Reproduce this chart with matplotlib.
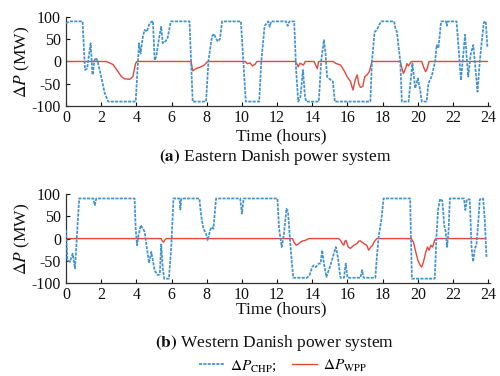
import matplotlib
matplotlib.use("Agg")
import matplotlib.pyplot as plt
from matplotlib.lines import Line2D

plt.rcParams["font.family"] = ["Liberation Serif", "DejaVu Serif"]
plt.rcParams["mathtext.fontset"] = "stix"
plt.rcParams["axes.unicode_minus"] = False

BLUE = "#4193cc"
RED = "#e5463c"
TEXT = "#111111"
DASH = (0, (1.8, 0.7))

# (a) Eastern Danish power system
t_chp_a = [0, 0.2, 0.94, 1.08, 1.2, 1.32, 1.4, 1.46, 1.51, 1.62, 1.71, 1.8, 2.0, 2.2, 2.4,
           3.96, 4.15, 4.24, 4.37, 4.47, 4.6, 4.75, 4.94, 5.04, 5.13, 5.3, 5.41, 5.5, 5.65,
           5.77, 5.96, 7.02, 7.2, 7.96, 8.1, 8.3, 8.4, 8.62, 8.75, 8.87, 9.94, 10.22, 10.98,
           11.1, 11.29, 11.5, 11.58, 11.66, 12.5, 12.6, 12.7, 12.97, 13.08, 13.2, 13.32,
           13.47, 13.58, 13.65, 14.37, 14.5, 14.66, 14.75, 14.84, 15.03, 15.17, 15.28, 17.3,
           17.39, 17.54, 17.67, 17.8, 17.92, 18.65, 18.72, 18.81, 19.0, 19.09, 19.47, 19.69,
           19.85, 20.0, 20.13, 20.22, 20.5, 20.6, 20.79, 20.98, 21.07, 21.17, 21.32, 21.6,
           21.65, 21.7, 22.2, 22.45, 22.68, 22.86, 23.01, 23.15, 23.28, 23.39, 23.52, 23.62,
           23.75, 23.86, 23.95]
p_chp_a = [86, 90, 90, -19, -16, 18, 41, 0, -30, 3, 8, 0, -34, -71, -90,
           -90, 41, 18, 56, 71, 67, 86, 91, 3, 11, 55, 78, 41, 45,
           52, 90, 90, -90, -90, 3, 56, 62, 45, 50, 90, 90, -90, -90,
           0, 80, 90, 78, 90, 90, 80, 90, 90, -19, -90, -80,
           -19, -78, -90, -90, 0, 48, 18, -34, -41, -45, -90, -90,
           0, 66, 71, 82, 90, 90, 75, 66, 0, -90, -90, -4,
           -60, -38, -64, -90, -90, -49, -33, 0, 37, 30, 90, 90,
           80, 90, 90, -42, 60, -34, 18, 37, -19, -68, 0, 41,
           88, 90, 33]

t_wpp_a = [0, 2.3, 2.68, 2.96, 3.15, 3.34, 3.62, 3.8, 3.96, 4.03, 7.11, 7.2, 7.39, 7.67, 7.86,
           8.05, 10.2, 10.3, 10.45, 10.6, 10.75, 10.85, 13.05, 13.2, 13.3, 13.5, 13.6, 14.1,
           14.19, 14.28, 14.36, 15.2, 15.32, 15.6, 15.8, 15.98, 16.17, 16.31, 16.45, 16.55,
           16.64, 16.73, 16.87, 16.98, 17.11, 17.24, 17.39, 19.0, 19.1, 19.18, 19.3, 19.38,
           19.47, 19.62, 20.22, 20.32, 20.44, 20.54, 20.63, 23.95]
p_wpp_a = [0, 0, -7, -23, -34, -39, -40, -34, -4, 0, 0, -21, -16, -12, -8,
           0, 0, -5, -3, -10, -6, 0, 0, -12, -4, -8, 0, 0,
           -8, -16, 0, 0, -4, -8, -20, -34, -45, -64, -40, -30,
           -50, -58, -56, -34, -30, -23, 0, 0, -16, -27, -16, -5,
           -10, 0, 0, -12, -23, -15, 0, 0]

# (b) Western Danish power system
t_chp_b = [0, 0.08, 0.23, 0.38, 0.51, 0.6, 0.75, 1.55, 1.64, 1.72, 3.9, 3.96, 4.04, 4.12,
           4.25, 4.38, 4.47, 4.6, 4.72, 4.85, 5.04, 5.22, 5.33, 5.41, 5.5, 5.58, 5.85, 5.98,
           6.11, 6.45, 6.5, 6.56, 7.58, 7.68, 7.81, 7.96, 8.05, 8.2, 8.3, 8.38, 8.53, 9.9,
           10.0, 10.1, 12.02, 12.11, 12.26, 12.38, 12.53, 12.62, 12.7, 12.83, 12.92, 13.7,
           13.85, 13.99, 14.09, 14.2, 14.37, 14.47, 14.56, 14.66, 14.8, 15.03, 15.22, 15.34,
           15.45, 15.6, 15.8, 15.9, 16.0, 16.73, 16.83, 16.92, 17.58, 17.67, 17.77, 17.92,
           18.05, 19.56, 19.66, 20.96, 21.05, 21.15, 21.26, 21.39, 21.5, 21.58, 21.66, 21.74,
           21.82, 22.62, 22.7, 22.78, 22.95, 23.05, 23.14, 23.24, 23.33, 23.42, 23.52, 23.71,
           23.8, 23.9]
p_chp_b = [19, -49, -52, -34, -67, -7, 90, 90, 75, 90, 90, 22, -15, 7,
           30, 22, 15, -22, -55, -30, -72, -82, -80, -13, -65, -90, -90, -20,
           90, 90, 65, 90, 90, 52, 22, 11, -4, 20, 26, 22, 90, 90,
           56, 90, 90, 22, -19, 7, 67, 60, 15, -52, -88, -88,
           -82, -64, -60, -64, -56, -56, -26, -56, -86, -60, -34, -19,
           -41, -88, -88, -56, -88, -88, -71, -88, -88, -41, 4, 41,
           90, 90, -90, -90, 0, 65, 89, 85, 30, 15, -19, 15,
           90, 90, 64, 88, 88, -19, -52, -22, -15, 30, 88, 90,
           45, -41]

t_wpp_b = [0, 5.41, 5.48, 5.55, 5.62, 5.7, 12.87, 12.96, 13.09, 13.24, 13.4, 13.6, 13.81,
           15.5, 15.6, 15.7, 15.79, 15.85, 15.92, 16.04, 16.17, 16.36, 16.55, 16.64, 16.73,
           16.92, 17.0, 17.1, 17.2, 17.3, 17.43, 17.5, 17.58, 17.67, 19.62, 19.75, 19.88,
           20.0, 20.13, 20.22, 20.32, 20.45, 20.55, 20.64, 20.74, 20.84, 20.95, 21.03, 23.85]
p_wpp_b = [0, 0, -6, -8, -3, 0, 0, -8, -15, -11, -6, -4, 0,
           0, -4, -11, -15, -6, -4, -19, -22, -15, -11, -6, -5,
           -11, -13, -15, -26, -20, -15, -8, -4, 0, 0, -8, -30,
           -49, -60, -64, -52, -30, -19, -26, -15, -19, -4, 0, 0]

panels = [
    (t_chp_a, p_chp_a, t_wpp_a, p_wpp_a, "(a)", "Eastern Danish power system"),
    (t_chp_b, p_chp_b, t_wpp_b, p_wpp_b, "(b)", "Western Danish power system"),
]

fig = plt.figure(figsize=(5.0, 3.76), dpi=100)
rects = [[0.132, 0.718, 0.848, 0.237], [0.132, 0.247, 0.848, 0.237]]
xlab_y = [0.638, 0.176]
cap_y = [0.582, 0.087]

for rect, (tc, pc, tw, pw, tag, name), xy, cy in zip(rects, panels, xlab_y, cap_y):
    ax = fig.add_axes(rect)
    ax.plot(tw, pw, color=RED, linewidth=1.0, zorder=2)
    ax.plot(tc, pc, color=BLUE, linewidth=1.25, linestyle=DASH, zorder=3)
    ax.set_xlim(0, 24.1)
    ax.set_ylim(-100, 100)
    ax.set_xticks(range(0, 25, 2))
    ax.set_yticks([-100, -50, 0, 50, 100])
    ax.tick_params(direction="in", length=3, labelsize=11.5, colors=TEXT)
    ax.tick_params(axis="x", pad=2.5)
    ax.tick_params(axis="y", pad=3.5)
    for s in ("top", "right"):
        ax.spines[s].set_visible(False)
    for s in ("left", "bottom"):
        ax.spines[s].set_color("#333333")
        ax.spines[s].set_linewidth(0.9)
    ax.set_ylabel(r"$\Delta P$ (MW)", fontsize=12.5, color=TEXT, labelpad=0)
    fig.text(0.562, xy, "Time (hours)", ha="center", va="center", fontsize=12.5, color=TEXT)
    fig.text(0.55, cy, r"$\mathbf{" + tag + "}$ " + name, ha="center", va="center",
             fontsize=12.5, color=TEXT)

handles = [Line2D([], [], color=BLUE, linewidth=1.25, linestyle=DASH),
           Line2D([], [], color=RED, linewidth=1.0)]
labels = [r"$\Delta P_{\rm CHP}$;", r"$\Delta P_{\rm WPP}$"]
fig.legend(handles, labels, loc="center", bbox_to_anchor=(0.566, 0.028), ncol=2,
           frameon=False, fontsize=11, handlelength=1.6, columnspacing=1.0,
           handletextpad=0.4)

fig.savefig("out.png", dpi=100, facecolor="white")
